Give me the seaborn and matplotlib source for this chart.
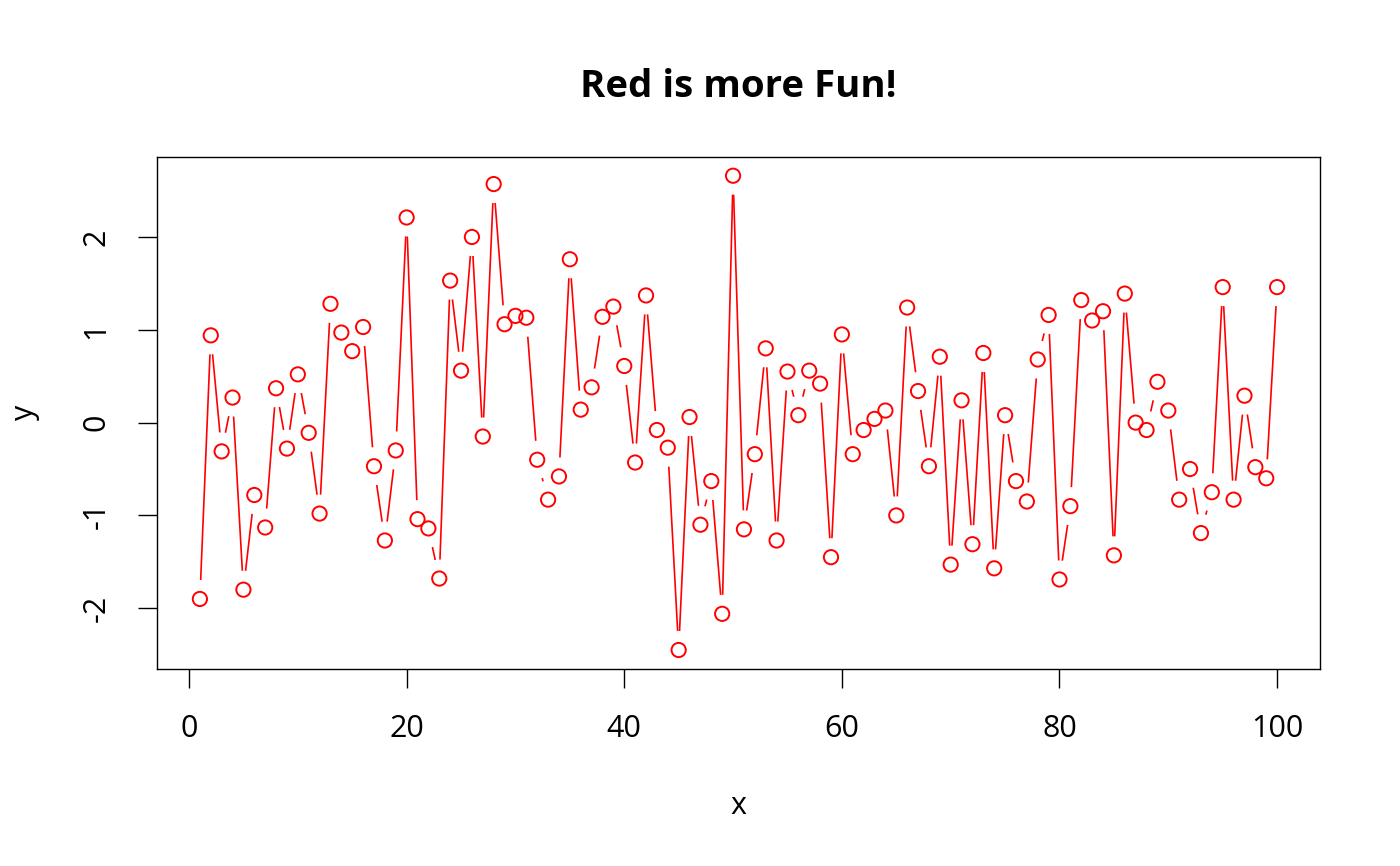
import numpy as np
import pandas as pd
import matplotlib
matplotlib.use('Agg')
import matplotlib.pyplot as plt
import seaborn as sns
from matplotlib.collections import LineCollection

# values
x = list(range(1, 101))
y = [-1.90, 0.94, -0.31, 0.27, -1.80, -0.78, -1.13, 0.37, -0.28, 0.52,
     -0.11, -0.98, 1.28, 0.97, 0.77, 1.03, -0.47, -1.27, -0.30, 2.21,
     -1.04, -1.14, -1.68, 1.53, 0.56, 2.00, -0.15, 2.57, 1.06, 1.15,
     1.13, -0.40, -0.83, -0.58, 1.76, 0.14, 0.38, 1.14, 1.25, 0.61,
     -0.43, 1.37, -0.08, -0.27, -2.45, 0.06, -1.10, -0.63, -2.06, 2.66,
     -1.15, -0.34, 0.80, -1.27, 0.55, 0.08, 0.56, 0.42, -1.45, 0.95,
     -0.34, -0.08, 0.04, 0.13, -1.00, 1.24, 0.34, -0.47, 0.71, -1.53,
     0.24, -1.31, 0.75, -1.57, 0.08, -0.63, -0.85, 0.68, 1.16, -1.69,
     -0.90, 1.32, 1.10, 1.20, -1.43, 1.39, 0.00, -0.08, 0.44, 0.13,
     -0.83, -0.50, -1.19, -0.75, 1.46, -0.83, 0.29, -0.48, -0.60, 1.46]
x_ticks = [0, 20, 40, 60, 80, 100]
y_ticks = [-2, -1, 0, 1, 2]

df = pd.DataFrame({'x': x, 'y': y})

sns.set_style('white', {'text.color': 'black', 'axes.labelcolor': 'black',
                        'xtick.color': 'black', 'ytick.color': 'black',
                        'axes.edgecolor': 'black'})
plt.rcParams['font.family'] = ['Open Sans', 'DejaVu Sans']

fig = plt.figure(figsize=(14, 8.66), dpi=100)
ax = fig.add_axes([0.112, 0.2275, 0.831, 0.5915])

xr = max(x) - min(x)
yr = max(y) - min(y)
ax.set_xlim(min(x) - 0.04 * xr, max(x) + 0.04 * xr)
ax.set_ylim(min(y) - 0.04 * yr, max(y) + 0.04 * yr)

# open circles
sns.scatterplot(data=df, x='x', y='y', s=105, facecolor='none',
                edgecolor='red', linewidth=1.4, ax=ax, zorder=3)

# R type="b": segments between points, cut short near each point
gap = 19  # pixels
pts = ax.transData.transform(np.column_stack([x, y]))
segs = []
for p0, p1 in zip(pts[:-1], pts[1:]):
    d = p1 - p0
    n = np.hypot(*d)
    if n <= 2 * gap:
        continue
    u = d / n
    segs.append([p0 + u * gap, p1 - u * gap])
inv = ax.transData.inverted()
segs = [inv.transform(np.array(s)) for s in segs]
ax.add_collection(LineCollection(segs, colors='red', linewidths=1.2, zorder=2))

ax.set_xticks(x_ticks)
ax.set_yticks(y_ticks)
ax.set_yticklabels([str(v) for v in y_ticks], rotation=90, va='center')
ax.tick_params(axis='both', direction='out', length=13.5, width=1,
               pad=19, labelsize=22, color='black', left=True, bottom=True)
for s in ax.spines.values():
    s.set_color('black')
    s.set_linewidth(1)

ax.set_xlabel('x', fontsize=22, labelpad=34)
ax.set_ylabel('y', fontsize=22, labelpad=30)
fig.suptitle('Red is more Fun!', fontsize=27.6, fontweight='bold',
             x=0.5275, y=0.922)

fig.savefig('out.png', dpi=100, facecolor='white')
